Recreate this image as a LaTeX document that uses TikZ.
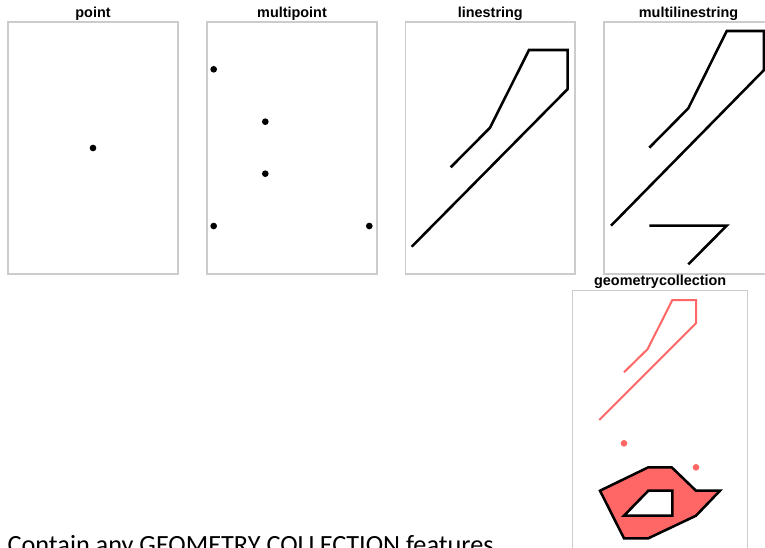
\documentclass[tikz,border=0pt]{standalone}
\usepackage{fontspec}
\setmainfont{Liberation Sans}
\newfontfamily\calib{Carlito}
\definecolor{geored}{RGB}{255,102,102}
\definecolor{framegray}{RGB}{204,204,204}
\tikzset{
  panel/.style={draw=framegray, line width=0.8pt},
  ttl/.style={font=\fontsize{10.8}{12}\selectfont\bfseries, anchor=base, inner sep=0pt},
  geoline/.style={line width=1.9pt, line join=miter, line cap=butt},
  redline/.style={draw=geored, line width=1.5pt, line join=miter},
  dot/.style={circle, fill=black, inner sep=0pt, minimum size=5pt},
  reddot/.style={circle, fill=geored, inner sep=0pt, minimum size=5pt}
}
\begin{document}
\begin{tikzpicture}[x=0.75pt, y=-0.75pt]
\useasboundingbox (0,0) rectangle (765,547);
\clip (0,0) rectangle (765,547);
\fill[white] (0,0) rectangle (765,547);
% point
\draw[panel] (8,22) rectangle (178,274);
\node[ttl] (t1) at (93,17.5) {point};
\node[dot] (p1) at (93,148) {};
% multipoint
\draw[panel] (207,22) rectangle (377,274);
\node[ttl] (t2) at (292,17.5) {multipoint};
\node[dot] (m1) at (213.7,69.3) {};
\node[dot] (m2) at (265.3,121.7) {};
\node[dot] (m3) at (265.3,173.7) {};
\node[dot] (m4) at (213.7,226) {};
\node[dot] (m5) at (369.3,226) {};
% linestring
\draw[panel] (405.7,22) rectangle (575,274);
\node[ttl] (t3) at (490.3,17.5) {linestring};
\draw[geoline] (450.7,167.3) -- (490,127.7) -- (529,50) -- (567.7,50) -- (567.7,89) -- (411.7,246.7);
% multilinestring
\draw[panel] (604,22) rectangle (773,274);
\node[ttl] (t4) at (688.5,17.5) {multilinestring};
\draw[geoline] (649.3,147.7) -- (688.3,108.3) -- (726.7,31) -- (764,31) -- (764,70) -- (611,225.7);
\draw[geoline] (649.3,225.7) -- (726.7,225.7) -- (688.3,264.3);
% geometrycollection
\draw[panel] (572.7,290.7) rectangle (747.7,560);
\node[ttl] (t5) at (660.2,285.5) {geometrycollection};
\draw[redline] (624,372.3) -- (647.7,349) -- (672.3,300) -- (696,300) -- (696,323.3) -- (599.3,420);
\node[reddot] (r1) at (624,443.3) {};
\node[reddot] (r2) at (696,467.3) {};
\filldraw[fill=geored, draw=black, line width=1.9pt, line join=miter, even odd rule]
  (600,490.7) -- (648.3,467.3) -- (671.7,467.3) -- (696,490.7) -- (720,490.7) -- (696,515.7) -- (648.3,538.3) -- (624,538.3) -- cycle
  (648.3,490.7) -- (672.3,490.7) -- (672.3,515.7) -- (624,515.7) -- cycle;
% caption
\node[font=\calib\fontsize{19.7}{22}\selectfont, anchor=base west, inner sep=0pt] (cap) at (7.3,553.6) {Contain any GEOMETRY COLLECTION features};
\end{tikzpicture}
\end{document}
